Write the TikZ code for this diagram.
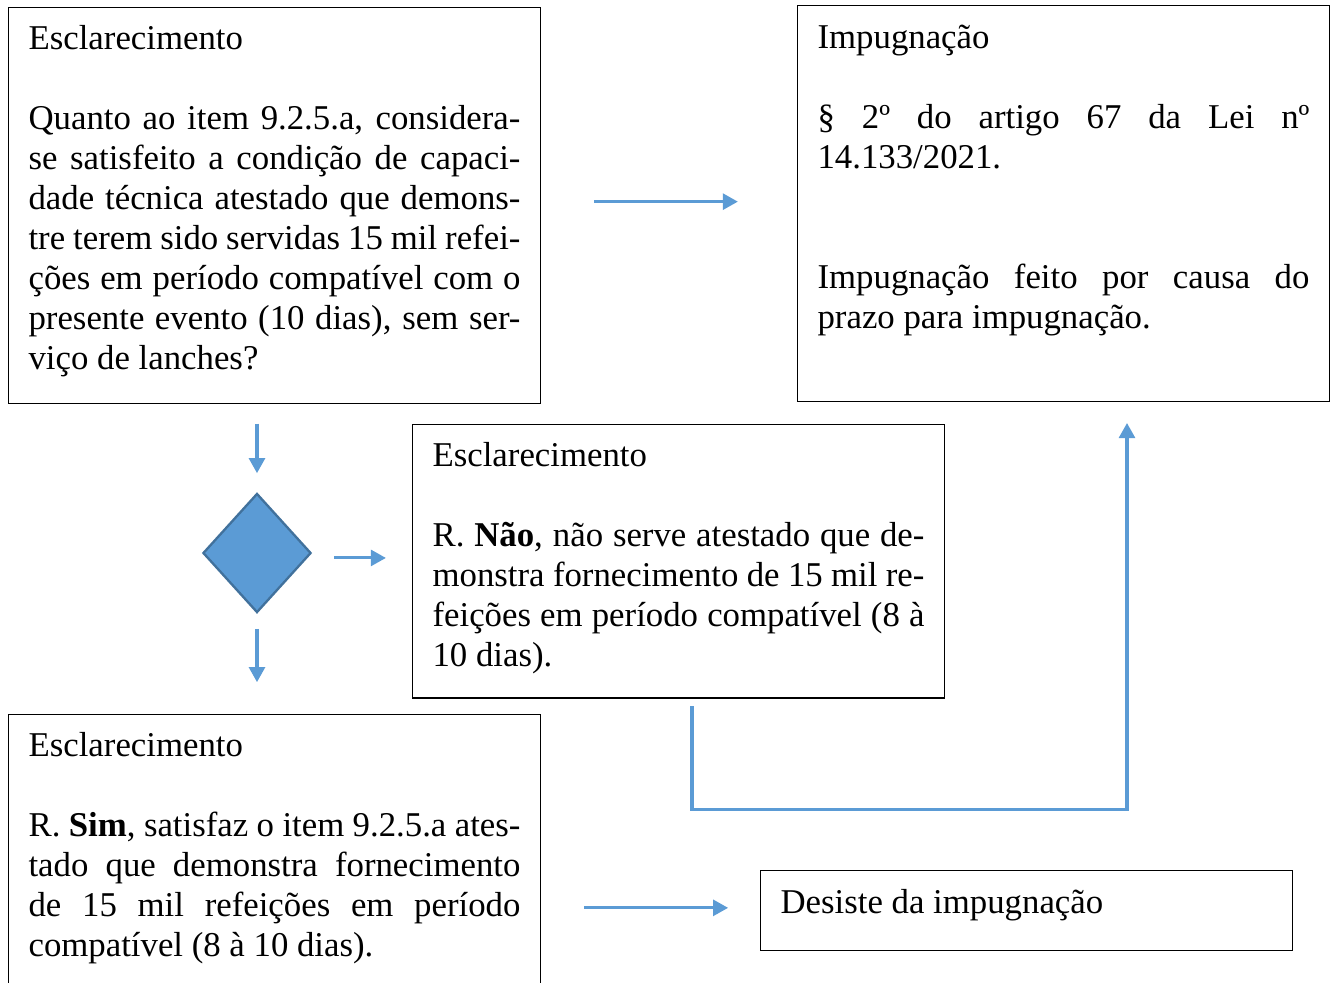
\documentclass[tikz,border=0pt]{standalone}
\usepackage{fontspec}
\setmainfont{Liberation Serif}
\usepackage{xcolor}
\usepackage{tikz}
\usetikzlibrary{positioning}
\usetikzlibrary{shapes.geometric}
\usetikzlibrary{arrows.meta}

\definecolor{azulseta}{HTML}{5B9BD5}
\definecolor{azulborda}{HTML}{41719C}
\newcommand{\pxl}{0.345pt}

\tikzset{
  caixa/.style={draw=black, line width=0.5pt, anchor=north west, minimum width=183.5pt, inner sep=0pt},
  texto/.style={inner sep=0pt, text width=169.7pt, align=justify, font=\fontsize{12}{13.8}\selectfont},
  losango/.style={diamond, draw=azulborda, fill=azulseta, line width=0.8pt, minimum width=37.3pt, minimum height=41.1pt, inner sep=0pt},
  seta/.style={azulseta, line width=1.05pt, -{Triangle[length=5.2pt,width=5.5pt]}},
}

\begin{document}
\begin{tikzpicture}[x=\pxl, y=-\pxl]
\useasboundingbox (0,0) rectangle (1333,982);
\clip (0,0) rectangle (1333,982);

% caixas
\node[caixa, minimum height=136.6pt] (escA) at (8,7) {};
\node[caixa, minimum height=136.6pt] (impug) at (797,5) {};
\node[caixa, minimum height=94.2pt] (escNao) at (412,424) {};
\node[caixa, minimum height=103.5pt] (escSim) at (8,714) {};
\node[caixa, minimum height=27.6pt] (desiste) at (760,870) {};
\node[losango] (decisao) at (257,553) {};

% textos
\node[texto, below right=6.2pt and 6.9pt of escA.north west] (txtA) {Esclarecimento\par\vspace{13.8pt}
Quanto ao item 9.2.5.a, considera-\linebreak se satisfeito a condição de capaci-\linebreak dade técnica atestado que demons-\linebreak tre terem sido servidas 15 mil refei-\linebreak ções em período compatível com o\linebreak presente evento (10 dias), sem ser-\linebreak viço de lanches?};

\node[texto, below right=6.6pt and 6.9pt of impug.north west] (txtImp) {Impugnação\par\vspace{13.8pt}
§ 2º do artigo 67 da Lei nº\linebreak 14.133/2021.\par\vspace{27.6pt}
Impugnação feito por causa do\linebreak prazo para impugnação.};

\node[texto, below right=6.2pt and 6.9pt of escNao.north west] (txtNao) {Esclarecimento\par\vspace{13.8pt}
R. \textbf{Não}, não serve atestado que de-\linebreak monstra fornecimento de 15 mil re-\linebreak feições em período compatível (8 à\linebreak 10 dias).};

\node[texto, below right=6.2pt and 6.9pt of escSim.north west] (txtSim) {Esclarecimento\par\vspace{13.8pt}
R. \textbf{Sim}, satisfaz o item 9.2.5.a ates-\linebreak tado que demonstra fornecimento\linebreak de 15 mil refeições em período\linebreak compatível (8 à 10 dias).};

\node[texto, below right=6.6pt and 6.9pt of desiste.north west] (txtDes) {Desiste da impugnação};

% setas
\draw[seta, shorten <=18.3pt, shorten >=20.4pt] ([yshift=1.4pt]escA.east) -- ([yshift=1.4pt]escA.east -| impug.west);
\draw[seta, shorten <=6.6pt, shorten >=6.6pt] (decisao.north |- escA.south) -- (decisao.north);
\draw[seta, shorten <=7.6pt, shorten >=9pt] ([yshift=-1.7pt]decisao.east) -- ([yshift=-1.7pt]decisao.east -| escNao.west);
\draw[seta, shorten <=5.2pt, shorten >=11pt] (decisao.south) -- (decisao.south |- escSim.north);
\draw[seta, shorten <=14.8pt, shorten >=11pt] ([yshift=1pt]escSim.east |- desiste.west) -- ([yshift=1pt]desiste.west);

\coordinate (saidaNao) at (692,706);
\coordinate (chegaImp) at (1127,423);
\draw[seta] (saidaNao) -- ++(0,103) -| (chegaImp);

\end{tikzpicture}
\end{document}
